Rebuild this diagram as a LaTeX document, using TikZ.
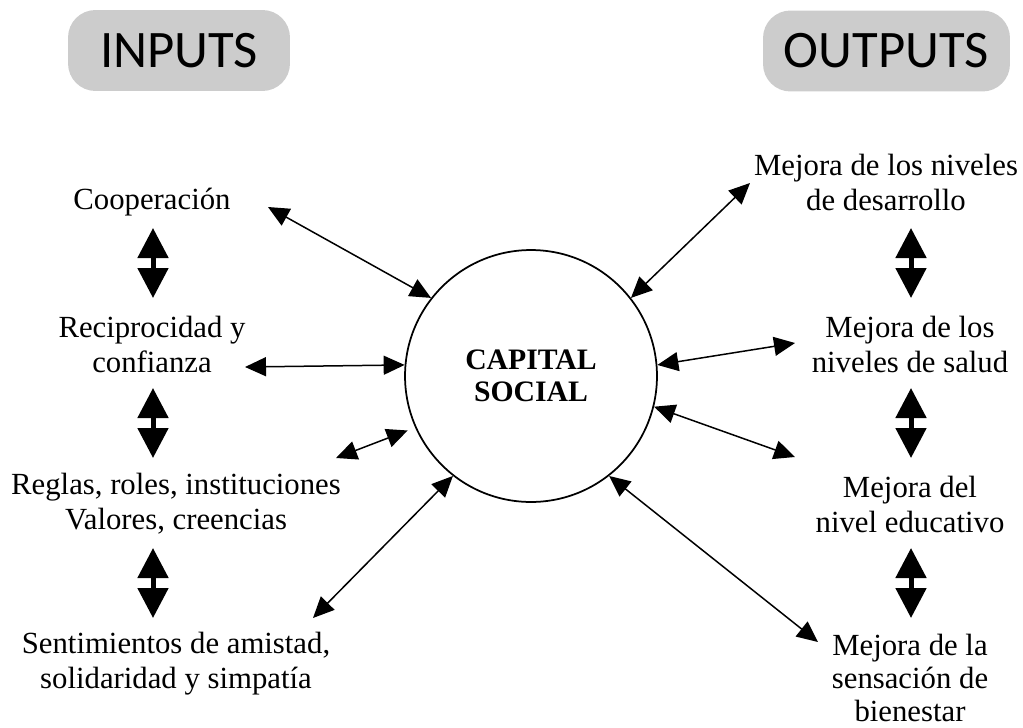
\documentclass[tikz,border=0pt]{standalone}
\usepackage{fontspec}
\setmainfont{Liberation Serif}
\newfontfamily\boxfont{Carlito}
\usetikzlibrary{arrows.meta}

\begin{document}
\begin{tikzpicture}[x=0.02cm, y=-0.02cm,
        headnode/.style={rectangle, rounded corners=0.55cm, fill=black!20, minimum height=1.62cm, font=\boxfont\fontsize{30}{36}\selectfont},
        textnode/.style={align=center, inner sep=0pt, font=\fontsize{17.5}{19.9}\selectfont},
        linkarrow/.style={{Triangle[length=0.42cm,width=0.38cm]}-{Triangle[length=0.42cm,width=0.38cm]}, line width=0.03cm},
        bigarrow/.style={{Triangle[length=0.6cm,width=0.6cm]}-{Triangle[length=0.6cm,width=0.6cm]}, line width=0.1cm},
    ]
        \useasboundingbox (0,0) rectangle (1023,727);

        %Nodes
        \node[headnode, minimum width=4.44cm] (inputs) at (179,50.5) {INPUTS};
        \node[headnode, minimum width=4.94cm] (outputs) at (886.5,51) {OUTPUTS};

        \node[circle, draw, line width=0.035cm, minimum size=5.04cm, align=center, font=\bfseries\fontsize{16.9}{18.2}\selectfont] (cs) at (531,376) {CAPITAL\\SOCIAL};

        \node[textnode, anchor=base] (coop) at (152,209) {Cooperación};
        \node[textnode] (recip) at (152,344) {Reciprocidad y\\confianza};
        \node[textnode] (reglas) at (176,504) {Reglas, roles, instituciones\\Valores, creencias};
        \node[textnode] (senti) at (176,664) {Sentimientos de amistad,\\solidaridad y simpatía};

        \node[textnode] (desar) at (886,182) {Mejora de los niveles\\de desarrollo};
        \node[textnode] (salud) at (910,344) {Mejora de los\\niveles de salud};
        \node[textnode] (educ) at (910,504) {Mejora del\\nivel educativo};
        \node[textnode, font=\fontsize{17.5}{18.9}\selectfont] (bienestar) at (910,678) {Mejora de la\\sensación de\\bienestar};

        \coordinate (coop_e) at (268,207);
        \coordinate (recip_e) at (245,367);
        \coordinate (reglas_e) at (336,458);
        \coordinate (senti_e) at (313,618);
        \coordinate (desar_e) at (750,183);
        \coordinate (salud_e) at (795,343);
        \coordinate (educ_e) at (795,457);
        \coordinate (bienestar_e) at (818,642);

        %Lines
        \draw[linkarrow] (coop_e) -- (cs.142);
        \draw[linkarrow] (recip_e) -- (cs.175);
        \draw[linkarrow, shorten >=0.16cm] (reglas_e) -- (cs.204);
        \draw[linkarrow] (senti_e) -- (cs.232);
        \draw[linkarrow] (desar_e) -- (cs.38);
        \draw[linkarrow] (salud_e) -- (cs.5);
        \draw[linkarrow] (educ_e) -- (cs.346);
        \draw[linkarrow] (bienestar_e) -- (cs.308);

        % big arrows between the items
        \foreach \y in {228,388,548}{
            \draw[bigarrow] (153,\y) -- (153,\y+70);
            \draw[bigarrow] (911,\y) -- (911,\y+70);
        }
    \end{tikzpicture}
\end{document}
